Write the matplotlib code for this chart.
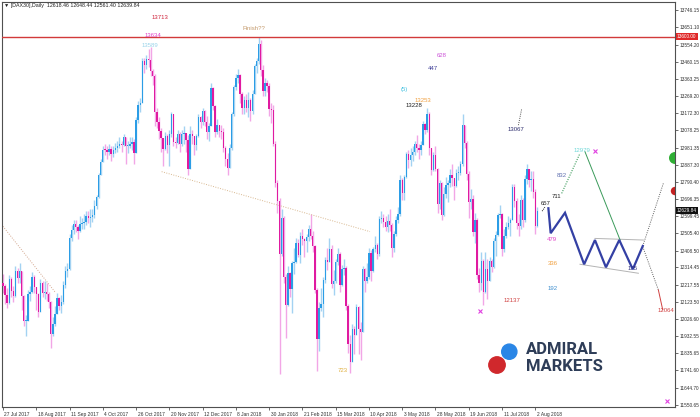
import matplotlib
matplotlib.use("Agg")
import matplotlib.pyplot as plt
import matplotlib.transforms as mtransforms
from matplotlib.patches import Circle, Wedge
import numpy as np

plt.rcParams['font.family'] = ['Liberation Sans', 'DejaVu Sans']

# DAX30 daily bars, 27 Jul 2017 .. 3 Aug 2018 (one value per bar)
first_open = 12230
closes = [
    12212, 12162, 12118, 12251, 12181, 12154, 12297, 12257, 12292, 12154,
    12014, 12014, 12165, 12177, 12263, 12203, 12165, 12065, 12229, 12174,
    12180, 12168, 12123, 11945, 12002, 12055, 12143, 12102, 12124, 12215,
    12296, 12304, 12476, 12524, 12554, 12540, 12518, 12559, 12561, 12569,
    12600, 12592, 12594, 12605, 12657, 12704, 12829, 12902, 12970, 12968,
    12956, 12976, 12949, 12970, 12982, 12992, 13003, 12995, 13043, 12990,
    12991, 13003, 13013, 12953, 13133, 13217, 13229, 13465, 13440, 13478,
    13468, 13406, 13382, 13182, 13127, 13074, 13033, 12976, 13047, 12994,
    13058, 13168, 13015, 13008, 13059, 13000, 13060, 13061, 13023, 12861,
    13058, 13048, 12999, 13045, 13153, 13123, 13183, 13125, 13068, 13103,
    13312, 13215, 13069, 13110, 13072, 13070, 12979, 12918, 12871, 12978,
    13167, 13320, 13367, 13385, 13282, 13202, 13245, 13201, 13246, 13183,
    13281, 13434, 13463, 13560, 13414, 13298, 13340, 13324, 13197, 13189,
    13004, 12785, 12687, 12392, 12590, 12260, 12107, 12282, 12196, 12339,
    12346, 12452, 12385, 12487, 12470, 12461, 12483, 12527, 12490, 12436,
    12190, 11913, 12090, 12113, 12245, 12355, 12346, 12418, 12222, 12237,
    12345, 12389, 12217, 12307, 12309, 12100, 11886, 11787, 11970, 11940,
    12096, 11970, 11957, 12305, 12241, 12261, 12397, 12293, 12415, 12442,
    12391, 12585, 12590, 12567, 12540, 12572, 12550, 12422, 12500, 12580,
    12612, 12802, 12729, 12819, 12948, 12912, 12943, 12955, 13001, 12978,
    12970, 12996, 13114, 13078, 13169, 12977, 12856, 12938, 12863, 12666,
    12783, 12605, 12724, 12771, 12787, 12830, 12811, 12767, 12842, 12842,
    12890, 13107, 13010, 12834, 12677, 12695, 12511, 12579, 12270, 12228,
    12349, 12177, 12306, 12238, 12349, 12317, 12464, 12496, 12609, 12610,
    12417, 12492, 12541, 12561, 12580, 12765, 12686, 12561, 12544, 12689,
    12578, 12809, 12860, 12799, 12805, 12737, 12546, 12630,
]
highs = [
    12280, 12220, 12200, 12270, 12260, 12210, 12320, 12310, 12340, 12230,
    12160, 12050, 12190, 12210, 12290, 12270, 12200, 12170, 12250, 12240,
    12240, 12230, 12180, 12130, 12040, 12100, 12170, 12150, 12160, 12240,
    12320, 12340, 12500, 12550, 12580, 12580, 12550, 12600, 12590, 12610,
    12630, 12630, 12640, 12640, 12690, 12720, 12840, 12920, 12990, 13000,
    12990, 13000, 12990, 12990, 13010, 13020, 13040, 13020, 13060, 13040,
    13020, 13040, 13040, 13030, 13150, 13240, 13260, 13480, 13480, 13500,
    13530, 13540, 13420, 13390, 13200, 13150, 13090, 13030, 13070, 13060,
    13080, 13180, 13170, 13040, 13080, 13070, 13080, 13100, 13060, 13050,
    13100, 13080, 13040, 13060, 13170, 13160, 13200, 13190, 13160, 13120,
    13340, 13320, 13220, 13140, 13110, 13110, 13090, 12990, 12950, 13000,
    13180, 13330, 13390, 13420, 13390, 13290, 13270, 13280, 13290, 13260,
    13300, 13450, 13480, 13600, 13580, 13440, 13370, 13360, 13340, 13230,
    13220, 13020, 12800, 12700, 12640, 12600, 12280, 12320, 12290, 12350,
    12420, 12480, 12470, 12510, 12530, 12480, 12500, 12550, 12610, 12520,
    12440, 12200, 12120, 12200, 12260, 12370, 12420, 12480, 12440, 12300,
    12360, 12420, 12400, 12330, 12360, 12320, 12110, 11940, 12000, 11990,
    12110, 12100, 12010, 12320, 12310, 12340, 12420, 12410, 12430, 12490,
    12450, 12600, 12630, 12610, 12600, 12610, 12640, 12560, 12520, 12600,
    12650, 12830, 12810, 12830, 12960, 12970, 12980, 12990, 13020, 13050,
    13000, 13020, 13130, 13120, 13204, 13180, 12980, 12960, 12990, 12870,
    12800, 12790, 12760, 12820, 12800, 12860, 12890, 12800, 12860, 12880,
    12910, 13170, 13100, 13020, 12850, 12750, 12720, 12620, 12590, 12310,
    12400, 12360, 12400, 12360, 12370, 12360, 12480, 12520, 12620, 12660,
    12620, 12530, 12570, 12600, 12590, 12780, 12780, 12700, 12610, 12720,
    12700, 12830, 12890, 12850, 12850, 12850, 12750, 12650,
]
lows = [
    12170, 12110, 12090, 12110, 12150, 12120, 12150, 12230, 12230, 12080,
    11990, 11930, 12040, 12130, 12170, 12170, 12080, 12040, 12070, 12150,
    12140, 12130, 12090, 11868, 11930, 11990, 12060, 12080, 12060, 12110,
    12200, 12260, 12300, 12460, 12500, 12510, 12470, 12510, 12530, 12530,
    12550, 12560, 12540, 12570, 12590, 12640, 12700, 12840, 12900, 12940,
    12920, 12940, 12910, 12930, 12950, 12960, 12980, 12960, 12990, 12890,
    12950, 12980, 12970, 12890, 12950, 13120, 13180, 13250, 13400, 13420,
    13430, 13380, 13330, 13100, 13090, 13030, 12960, 12880, 12970, 12950,
    12880, 13040, 12990, 12980, 13000, 12960, 12990, 13000, 12960, 12830,
    12860, 13000, 12940, 12970, 13040, 13090, 13110, 13100, 13030, 13020,
    13100, 13190, 13040, 13060, 13040, 13030, 12960, 12880, 12830, 12870,
    12970, 13160, 13300, 13340, 13230, 13170, 13170, 13180, 13150, 13130,
    13170, 13280, 13400, 13450, 13380, 13270, 13270, 13290, 13160, 13120,
    12990, 12760, 12620, 11720, 12380, 12230, 11920, 12100, 12150, 12060,
    12280, 12340, 12370, 12340, 12440, 12370, 12400, 12460, 12470, 12400,
    12170, 11740, 11850, 12070, 12040, 12230, 12300, 12360, 12200, 12160,
    12230, 12330, 12180, 12210, 12270, 12080, 11840, 11726, 11800, 11830,
    11950, 11830, 11800, 11960, 12180, 12230, 12250, 12240, 12290, 12400,
    12360, 12380, 12560, 12540, 12520, 12510, 12520, 12370, 12400, 12490,
    12560, 12600, 12690, 12690, 12810, 12870, 12880, 12910, 12940, 12960,
    12920, 12940, 13000, 13060, 13070, 12940, 12830, 12850, 12850, 12620,
    12640, 12580, 12600, 12700, 12680, 12760, 12770, 12690, 12760, 12800,
    12830, 12880, 12980, 12800, 12590, 12640, 12490, 12450, 12250, 12180,
    12190, 12104, 12170, 12140, 12240, 12290, 12310, 12380, 12490, 12590,
    12380, 12400, 12480, 12530, 12490, 12590, 12650, 12530, 12490, 12530,
    12540, 12570, 12780, 12760, 12740, 12700, 12500, 12540,
]

date_labels = ["27 Jul 2017", "18 Aug 2017", "11 Sep 2017", "4 Oct 2017",
               "26 Oct 2017", "20 Nov 2017", "12 Dec 2017", "8 Jan 2018",
               "30 Jan 2018", "21 Feb 2018", "15 Mar 2018", "10 Apr 2018",
               "3 May 2018", "28 May 2018", "19 Jun 2018", "11 Jul 2018",
               "2 Aug 2018"]
price_ticks = [13746.15, 13651.10, 13554.20, 13460.15, 13363.25, 13269.20,
               13172.30, 13078.25, 12981.35, 12887.30, 12790.40, 12696.35,
               12599.45, 12505.40, 12408.50, 12314.45, 12217.55, 12123.50,
               12026.60, 11932.55, 11835.65, 11741.60, 11644.70, 11550.65]
resistance = 13600.00
last_price = 12629.84

# projected path (bar index, price)
proj_x = [262.3, 263.4, 270.3, 279.5, 284.7, 290.0, 296.4, 302.9, 307.7]
proj_p = [12644, 12505, 12619, 12332, 12467, 12315, 12467, 12304, 12434]

# wave labels: text, bar index, price, colour
labels = [
    ("13713", 75.5, 13704, "#d0243c"),
    ("13634", 72.2, 13604, "#e040c8"),
    ("13589", 70.5, 13553, "#9ad4ea"),
    ("Finish??", 120.7, 13648, "#c49a6c"),
    ("628", 210.9, 13494, "#cc55d8"),
    ("447", 206.6, 13424, "#404098"),
    ("(5)", 192.9, 13308, "#40c0e0"),
    ("13253", 201.8, 13242, "#f0a040"),
    ("13228", 197.9, 13215, "#202020"),
    ("13067", 246.5, 13080, "#2c2c6c"),
    ("12979", 278.7, 12968, "#70d8d8"),
    ("832", 268.6, 12829, "#6070b0"),
    ("711", 266.0, 12707, "#202020"),
    ("657", 261.2, 12673, "#202020"),
    ("479", 263.8, 12471, "#e040c8"),
    ("336", 264.5, 12337, "#f0a040"),
    ("192", 264.5, 12198, "#4090d0"),
    ("12137", 245.0, 12133, "#d04040"),
    ("12064", 318.7, 12072, "#d04040"),
    ("175", 302.8, 12310, "#303080"),
    ("723", 163.3, 11739, "#e0b040"),
]
star_x = [284.7, 229.4, 319.5]
star_p = [12965, 12072, 11570]

fig = plt.figure(figsize=(7.0, 4.17), dpi=100)
ax = fig.add_axes([2 / 700, 10 / 417, 673 / 700, 405 / 417])
ax.set_xlim(-0.48, 323.2)
ax.set_ylim(11537.0, 13792.9)

c = np.array(closes, float)
h = np.array(highs, float)
l = np.array(lows, float)
o = np.r_[first_open, c[:-1]]
h = np.maximum(h, np.maximum(o, c))
l = np.minimum(l, np.minimum(o, c))
idx = np.arange(len(c))
up = c >= o

for mask, wick_col, body_col in [(up, "#a3d2f2", "#2b9de6"), (~up, "#f2a6e6", "#e01aa0")]:
    ax.vlines(idx[mask], l[mask], h[mask], color=wick_col, lw=1.0, zorder=2)
    body = np.maximum(np.abs(c - o), 5)[mask]
    ax.bar(idx[mask], body, bottom=np.minimum(o, c)[mask], width=0.65,
           color=body_col, linewidth=0, zorder=3)

# trend lines
ax.plot([-1.5, 25.0], [12565, 12178], ls=(0, (1, 1.5)), color="#d4a890", lw=0.7)
ax.plot([76.3, 176.5], [12848, 12514], ls=(0, (1, 1.5)), color="#d8b890", lw=0.7)
ax.axhline(resistance, color="#d23a3a", lw=1.0, zorder=4)
ax.plot([247.9, 249.5], [13107, 13200], ls=(0, (1, 1.2)), color="#505050", lw=0.7)

# projection
ax.plot([284.7, 308.0], [12476, 12467], color="#b4b4b4", lw=0.7)
ax.plot([277.5, 305.6], [12332, 12282], color="#b4b4b4", lw=0.7)
ax.plot([268.7, 277.5], [12727, 12950], ls=(0, (1, 1.2)), color="#3a9a5a", lw=0.8)
ax.plot([279.9, 296.8], [12959, 12467], color="#3a9a5a", lw=0.7)
ax.plot(proj_x, proj_p, color="#3440a4", lw=1.6, solid_joinstyle="miter", zorder=5)
ax.plot([259.3, 260.6], [12628, 12650], color="#202020", lw=0.7, ls=(0, (1, 1)))
ax.plot([307.7, 317.6], [12434, 12783], ls=(0, (1, 1.3)), color="#606060", lw=0.7)
ax.plot([307.7, 315.2], [12430, 12189], ls=(0, (1, 1.3)), color="#606060", lw=0.7)
ax.plot([315.2, 317.3], [12189, 12078], color="#d04040", lw=0.7)

ax.plot(star_x, star_p, "x", color="#e040e0", ms=3, mew=0.8, zorder=6)

for s, x, p, col in labels:
    ax.text(x, p, s, color=col, fontsize=4.3, ha="center", va="center", zorder=7)

# indicator half-discs sitting against the price scale (pixel sized)
disp = ax.get_yaxis_transform()
for price, rad, col in [(12924, 6.0, "#2fae34"), (12740, 4.2, "#c42222")]:
    px, py = disp.transform((1.0, price))
    fig.add_artist(Wedge((px / 100, py / 100), rad / 100, 90, 270,
                         transform=fig.dpi_scale_trans, color=col, lw=0,
                         zorder=8))

# axes styling
for sp in ax.spines.values():
    sp.set_color("#505050")
    sp.set_linewidth(0.8)
ax.yaxis.tick_right()
ax.set_yticks(price_ticks)
ax.set_yticklabels([f"{v:.2f}" for v in price_ticks])
ax.tick_params(axis="y", labelsize=3.4, length=2, width=0.5, pad=1.2,
               colors="#303030")
ax.set_xticks(range(0, len(c), 16))
ax.set_xticklabels(date_labels, ha="left")
ax.tick_params(axis="x", labelsize=3.5, length=2.5, width=0.5, pad=1.0,
               colors="#303030")
offset = mtransforms.ScaledTranslation(1.5 / 100, 0, fig.dpi_scale_trans)
for lab in ax.get_xticklabels():
    lab.set_transform(lab.get_transform() + offset)

ytr = ax.get_yaxis_transform()
ax.text(1.003, resistance, f"{resistance:.2f}", transform=ytr, fontsize=3.4,
        color="white", ha="left", va="center",
        bbox=dict(boxstyle="square,pad=0.25", fc="#e02828", ec="none"))
ax.text(1.003, last_price, f"{last_price:.2f}", transform=ytr, fontsize=3.4,
        color="white", ha="left", va="center",
        bbox=dict(boxstyle="square,pad=0.25", fc="#101010", ec="none"))

fig.text(4 / 700, 1 - 6 / 417,
         "\u25bc [DAX30],Daily  12618.46 12648.44 12561.40 12639.84",
         fontsize=3.8, va="center", color="#202020")

# logo
fig.add_artist(Circle((509.3 / 100, (417 - 351.7) / 100), 7.6 / 100,
                      transform=fig.dpi_scale_trans, color="#2a86e6", zorder=9))
fig.add_artist(Circle((497.0 / 100, (417 - 365.0) / 100), 8.2 / 100,
                      transform=fig.dpi_scale_trans, color="#d0282c", zorder=9))
for txt, yy in [("ADMIRAL", 350.0), ("MARKETS", 366.5)]:
    fig.text(526 / 700, 1 - yy / 417, txt, fontsize=12, fontweight="bold",
             family="Roboto", color="#2e3d58", ha="left", va="center")

fig.savefig("out.png", dpi=100)
